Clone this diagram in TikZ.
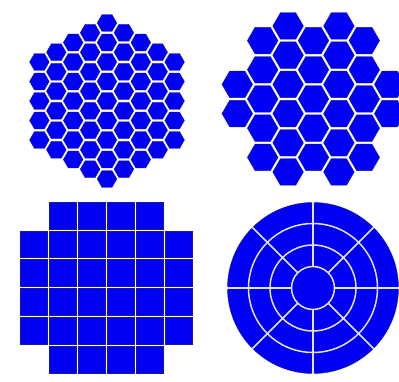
\documentclass[tikz,border=0pt]{standalone}
\definecolor{segblue}{RGB}{0,0,245}
\definecolor{segedge}{RGB}{25,25,150}
\definecolor{gapc}{RGB}{228,228,236}
\begin{document}
\begin{tikzpicture}[x=1pt,y=-1pt,
  seg/.style={fill=segblue, draw=segedge, line width=0.4pt},
  gapline/.style={draw=gapc, line width=1.5pt}]
\useasboundingbox (0,0) rectangle (399,382);
\fill[white] (0,0) rectangle (399,382);

% top-left: 61 small hexagons
\foreach \i in {-4,...,4}{
  \pgfmathtruncatemacro{\n}{9-abs(\i)}
  \foreach \j in {1,...,\n}{
    \pgfmathsetmacro{\cx}{107+\i*16.9}
    \pgfmathsetmacro{\cy}{101+(\j-(\n+1)/2)*19.5}
    \draw[seg] (\cx,\cy) +(0:9.8) -- +(60:9.8) -- +(120:9.8) -- +(180:9.8) -- +(240:9.8) -- +(300:9.8) -- cycle;
  }
}

% top-right: 31 large hexagons
\foreach \i/\n in {-3/2,-2/5,-1/6,0/5,1/6,2/5,3/2}{
  \foreach \j in {1,...,\n}{
    \pgfmathsetmacro{\cx}{313.5+\i*25.4}
    \pgfmathsetmacro{\cy}{99+(\j-(\n+1)/2)*29.2}
    \draw[seg] (\cx,\cy) +(0:15.3) -- +(60:15.3) -- +(120:15.3) -- +(180:15.3) -- +(240:15.3) -- +(300:15.3) -- cycle;
  }
}

% bottom-left: 32 squares
\foreach \c in {0,...,5}{
  \foreach \r in {0,...,5}{
    \pgfmathtruncatemacro{\skip}{((\r==0)||(\r==5))&&((\c==0)||(\c==5)) ? 1 : 0}
    \ifnum\skip=0
      \pgfmathsetmacro{\sx}{20.5+\c*29}
      \pgfmathsetmacro{\sy}{202+\r*28.8}
      \draw[seg] (\sx,\sy) rectangle ++(27.0,26.8);
    \fi
  }
}

% bottom-right: segmented disc
\draw[seg] (313,288) circle[radius=85.5];
\foreach \rr in {21.5,43,64.5}{
  \draw[gapline] (313,288) circle[radius=\rr];
}
\foreach \a in {0,45,...,315}{
  \draw[gapline] (313,288) ++(\a:21.5) -- ++(\a:64.3);
}
\end{tikzpicture}
\end{document}
